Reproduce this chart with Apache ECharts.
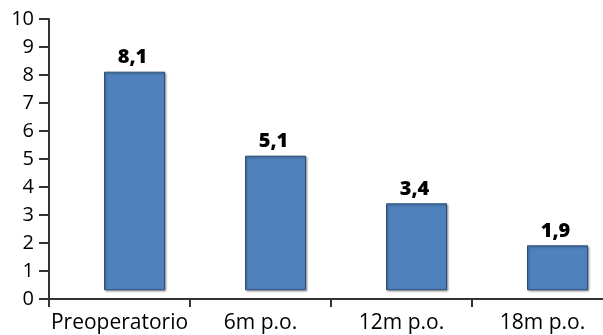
<!DOCTYPE html>
<html>
<head>
<meta charset="utf-8">
<script src="https://cdn.jsdelivr.net/npm/echarts@6/dist/echarts.min.js"></script>
<style>
  html, body { margin: 0; padding: 0; background: #fff; }
  #chart { width: 603px; height: 335px; }
</style>
</head>
<body>
<div id="chart"></div>
<script>
const categories = ['Preoperatorio', '6m p.o.', '12m p.o.', '18m p.o.'];
const values = [8.1, 5.1, 3.4, 1.9];
const valueLabels = ['8,1', '5,1', '3,4', '1,9'];
const yTicks = [0, 1, 2, 3, 4, 5, 6, 7, 8, 9, 10];

// bars float a little above the floor, like the 3D original
const barFloor = 0.33;

const chart = echarts.init(document.getElementById('chart'));

chart.setOption({
  animation: false,
  textStyle: { fontFamily: 'Open Sans' },
  grid: { left: 49, top: 19, bottom: 36, width: 564, outerBoundsMode: 'none' },
  xAxis: {
    type: 'category',
    data: categories,
    axisLine: { lineStyle: { color: '#333', width: 2 } },
    axisTick: { show: true, interval: 0, length: 8, lineStyle: { color: '#333', width: 2 } },
    axisLabel: { interval: 0, color: '#000', fontSize: 21, margin: 14 },
    splitLine: { show: false }
  },
  yAxis: {
    type: 'value',
    min: yTicks[0],
    max: yTicks[yTicks.length - 1],
    interval: 1,
    axisLine: { show: true, lineStyle: { color: '#333', width: 2 } },
    axisTick: { show: true, length: 10, lineStyle: { color: '#333', width: 2 } },
    axisLabel: { color: '#000', fontSize: 20, margin: 15 },
    splitLine: { show: false }
  },
  series: [{
    type: 'custom',
    data: values.map((v, i) => [i, v]),
    renderItem: function (params, api) {
      const i = api.value(0);
      const top = api.coord([i, api.value(1)]);
      const bottom = api.coord([i, barFloor]);
      const w = 60;
      const x = top[0] + 15 - w / 2;
      return {
        type: 'group',
        children: [
          {
            type: 'rect',
            shape: { x: x, y: top[1], width: w, height: bottom[1] - top[1] },
            style: {
              fill: '#4f81bd',
              stroke: '#2f4f78',
              lineWidth: 1,
              shadowBlur: 2,
              shadowColor: 'rgba(0,0,0,0.35)',
              shadowOffsetX: 1,
              shadowOffsetY: 1
            }
          },
          {
            type: 'text',
            style: {
              text: valueLabels[params.dataIndex],
              x: x + w / 2 - 2,
              y: top[1] - 15,
              align: 'center',
              verticalAlign: 'middle',
              font: '800 20px "Open Sans"',
              fill: '#000'
            }
          }
        ]
      };
    }
  }]
});
</script>
</body>
</html>
